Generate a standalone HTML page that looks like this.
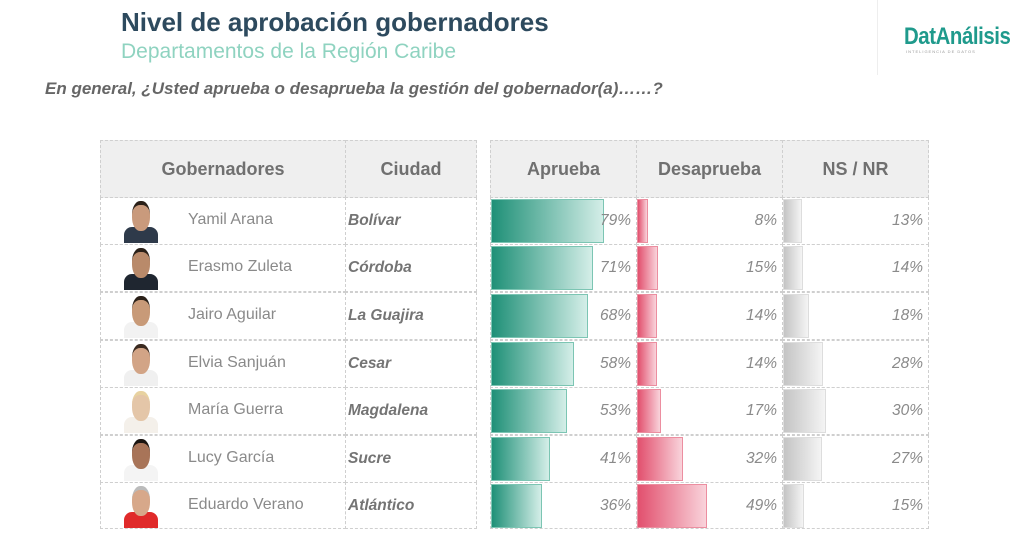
<!DOCTYPE html>
<html><head><meta charset="utf-8"><style>
body{margin:0;width:1024px;height:553px;background:#fff;position:relative;overflow:hidden;font-family:"Liberation Sans",sans-serif}
.a{position:absolute}
.cell{position:absolute;box-sizing:border-box;border:1px dashed #cfcfcf}
.hd{background:#efefef;color:#707070;font-size:18px;font-weight:bold;display:flex;align-items:center;justify-content:center}
.nm{position:absolute;font-size:16px;color:#8a8a8a}
.ct{position:absolute;font-size:15.5px;color:#747474;font-weight:bold;font-style:italic}
.pc{position:absolute;font-size:15.5px;color:#8a8a8a;font-style:italic;text-align:right;width:60px}
.g{background:linear-gradient(90deg,#1f9077,#d4eee8);border:1px solid #7cc5b3;box-sizing:border-box}
.r{background:linear-gradient(90deg,#e2506e,#f9d3db);border:1px solid #ec8ea0;box-sizing:border-box}
.s{background:linear-gradient(90deg,#c4c4c4,#f4f4f4);border:1px solid #ddd;box-sizing:border-box}
</style></head><body>
<div class="a" style="left:121px;top:7px;font-size:26px;font-weight:bold;color:#2d4a5e">Nivel de aprobación gobernadores</div>
<div class="a" style="left:121px;top:40px;font-size:21px;color:#8fd3c0">Departamentos de la Región Caribe</div>
<div class="a" style="left:45px;top:79px;font-size:17px;font-weight:bold;font-style:italic;color:#666">En general, ¿Usted aprueba o desaprueba la gestión del gobernador(a)……?</div>
<div class="a" style="left:877px;top:0;width:1px;height:75px;background:#eee"></div>
<div class="a" style="left:904px;top:23px;font-size:24px;font-weight:bold;color:#1f9a8c;letter-spacing:-0.5px;transform:scaleX(0.85);transform-origin:left">DatAnálisis</div>
<div class="a" style="left:906px;top:49px;font-size:4px;color:#999;letter-spacing:1px">INTELIGENCIA DE DATOS</div>

<div class="cell hd" style="left:100px;top:140px;width:246px;height:58px">Gobernadores</div>
<div class="cell hd" style="left:345px;top:140px;width:132px;height:58px">Ciudad</div>
<div class="cell hd" style="left:490px;top:140px;width:147px;height:58px">Aprueba</div>
<div class="cell hd" style="left:636px;top:140px;width:147px;height:58px">Desaprueba</div>
<div class="cell hd" style="left:782px;top:140px;width:147px;height:58px">NS / NR</div>

<div id="rows"></div>
<script>
var d=[["Yamil Arana","Bolívar",79,8,13,"#2e3a4a"],["Erasmo Zuleta","Córdoba",71,15,14,"#1f2630"],["Jairo Aguilar","La Guajira",68,14,18,"#f2f2f2"],["Elvia Sanjuán","Cesar",58,14,28,"#f0f0f0"],["María Guerra","Magdalena",53,17,30,"#f4f0ea"],["Lucy García","Sucre",41,32,27,"#f4f4f4"],["Eduardo Verano","Atlántico",36,49,15,"#e02a2a"]];
var tops=[197,244,292,340,387,435,482],h="";
var skin=["#c99a7c","#b98a6a","#c89a78","#d2a486","#e4c6a8","#a87458","#d7a88a"],hair=["#2a2018","#2a2018","#2a2018","#3a2a20","#e8d2a0","#1a1410","#bbb"];
d.forEach(function(r,i){var t=tops[i],H=(i==6?47:48);
[[100,246],[345,132],[490,147],[636,147],[782,147]].forEach(function(c){h+='<div class="cell" style="left:'+c[0]+'px;top:'+t+'px;width:'+c[1]+'px;height:'+H+'px"></div>';});
h+='<div class="a" style="left:124px;top:'+(t+30)+'px;width:34px;height:16px;background:'+r[5]+';border-radius:8px 8px 0 0"></div>';
h+='<div class="a" style="left:132px;top:'+(t+4)+'px;width:18px;height:26px;background:'+skin[i]+';border-radius:45%;border-top:4px solid '+hair[i]+'"></div>';
h+='<div class="nm" style="left:188px;top:'+(t+14)+'px">'+r[0]+'</div>';
h+='<div class="ct" style="left:348px;top:'+(t+15)+'px">'+r[1]+'</div>';
[[491,r[2],"g"],[637,r[3],"r"],[783,r[4],"s"]].forEach(function(b){
h+='<div class="a '+b[2]+'" style="left:'+b[0]+'px;top:'+(t+2)+'px;width:'+Math.round(b[1]*1.43)+'px;height:44px"></div>';
h+='<div class="pc" style="left:'+(b[0]+80)+'px;top:'+(t+15)+'px">'+b[1]+'%</div>';});
});
document.getElementById("rows").innerHTML=h;
</script>
</body></html>
